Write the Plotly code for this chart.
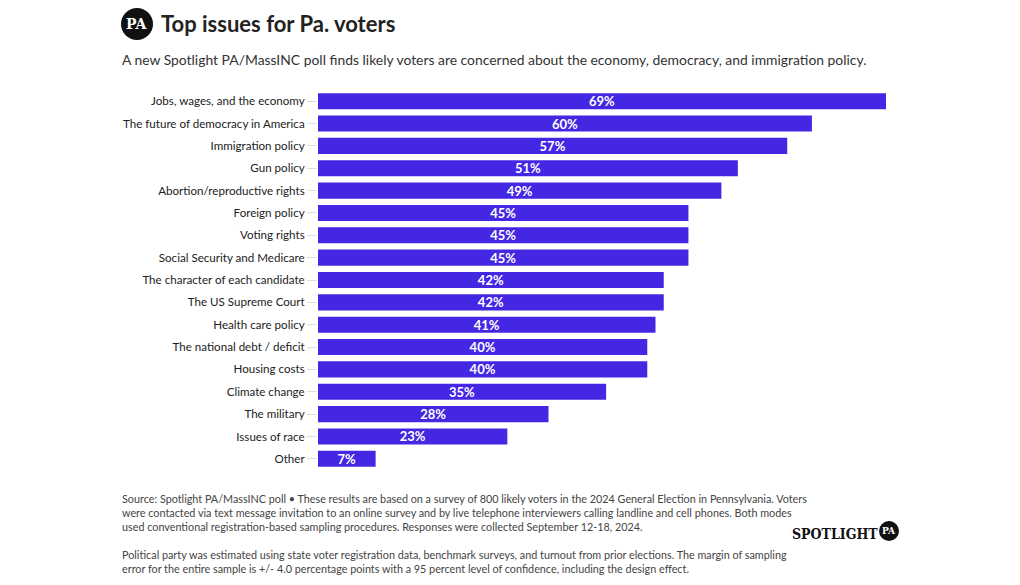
import plotly.graph_objects as go

categories = ["Jobs, wages, and the economy", "The future of democracy in America", "Immigration policy",
              "Gun policy", "Abortion/reproductive rights", "Foreign policy", "Voting rights",
              "Social Security and Medicare", "The character of each candidate", "The US Supreme Court",
              "Health care policy", "The national debt / deficit", "Housing costs", "Climate change",
              "The military", "Issues of race", "Other"]
values = [69, 60, 57, 51, 49, 45, 45, 45, 42, 42, 41, 40, 40, 35, 28, 23, 7]
labels = [f"{v}%" for v in values]

fig = go.Figure(go.Bar(
    x=values, y=categories, orientation="h",
    marker=dict(color="#4427E3", line=dict(width=0)),
    text=labels, textposition="inside", insidetextanchor="middle",
    textfont=dict(color="white", size=13, family="Lato", weight="bold"),
    hoverinfo="skip", cliponaxis=False,
))

T = 90
fig.update_layout(
    width=1020, height=585,
    margin=dict(l=318, r=134, t=T, b=585 - T - 380),
    paper_bgcolor="white", plot_bgcolor="white",
    bargap=0.28, showlegend=False,
    uniformtext=dict(minsize=13, mode="show"),
    xaxis=dict(range=[0, 69], visible=False, fixedrange=True),
    yaxis=dict(autorange="reversed", ticks="outside", ticklen=10, tickcolor="#dddddd",
               showline=False, showgrid=False,
               tickfont=dict(family="Lato", size=11.6, color="#222222"), fixedrange=True),
    font=dict(family="Lato"),
)

def px(x):
    return (x - 318) / 568

def py(y):
    return (T + 380 - y) / 380

# PA logo circle
fig.add_shape(type="circle", xref="paper", yref="paper",
              x0=px(121), x1=px(153), y0=py(40), y1=py(8),
              fillcolor="#111111", line=dict(width=0))
fig.add_annotation(xref="paper", yref="paper", x=px(137), y=py(24),
                   text="<b>PA</b>", showarrow=False, xanchor="center", yanchor="middle",
                   font=dict(family="DejaVu Serif", size=14, color="white"))

fig.add_annotation(xref="paper", yref="paper", x=px(159), y=py(24),
                   text="<b>Top issues for Pa. voters</b>", showarrow=False,
                   xanchor="left", yanchor="middle",
                   font=dict(family="Lato", size=22, color="#222222"))
fig.add_annotation(xref="paper", yref="paper", x=px(120), y=py(59),
                   text="A new Spotlight PA/MassINC poll finds likely voters are concerned about the economy, democracy, and immigration policy.",
                   showarrow=False, xanchor="left", yanchor="middle",
                   font=dict(family="Lato", size=13.9, color="#333333"))

footer1 = ("Source: Spotlight PA/MassINC poll • These results are based on a survey of 800 likely voters in the 2024 General Election in Pennsylvania. Voters<br>"
           "were contacted via text message invitation to an online survey and by live telephone interviewers calling landline and cell phones. Both modes<br>"
           "used conventional registration-based sampling procedures. Responses were collected September 12-18, 2024.")
footer2 = ("Political party was estimated using state voter registration data, benchmark surveys, and turnout from prior elections. The margin of sampling<br>"
           "error for the entire sample is +/- 4.0 percentage points with a 95 percent level of confidence, including the design effect.")
fig.add_annotation(xref="paper", yref="paper", x=px(120), y=py(490),
                   text=footer1, showarrow=False, xanchor="left", yanchor="top", align="left",
                   font=dict(family="Lato", size=10.8, color="#444444"))
fig.add_annotation(xref="paper", yref="paper", x=px(120), y=py(546),
                   text=footer2, showarrow=False, xanchor="left", yanchor="top", align="left",
                   font=dict(family="Lato", size=10.8, color="#444444"))

# Spotlight PA logo
fig.add_annotation(xref="paper", yref="paper", x=px(880), y=py(534),
                   text="<b>SPOTLIGHT</b>", showarrow=False, xanchor="right", yanchor="middle",
                   font=dict(family="DejaVu Serif Condensed, DejaVu Serif", size=14, color="#111111"))
fig.add_shape(type="circle", xref="paper", yref="paper",
              x0=px(879), x1=px(899), y0=py(541), y1=py(521),
              fillcolor="#111111", line=dict(width=0))
fig.add_annotation(xref="paper", yref="paper", x=px(889), y=py(531),
                   text="<b>PA</b>", showarrow=False, xanchor="center", yanchor="middle",
                   font=dict(family="DejaVu Serif", size=9, color="white"))

fig.write_html("out.html")
